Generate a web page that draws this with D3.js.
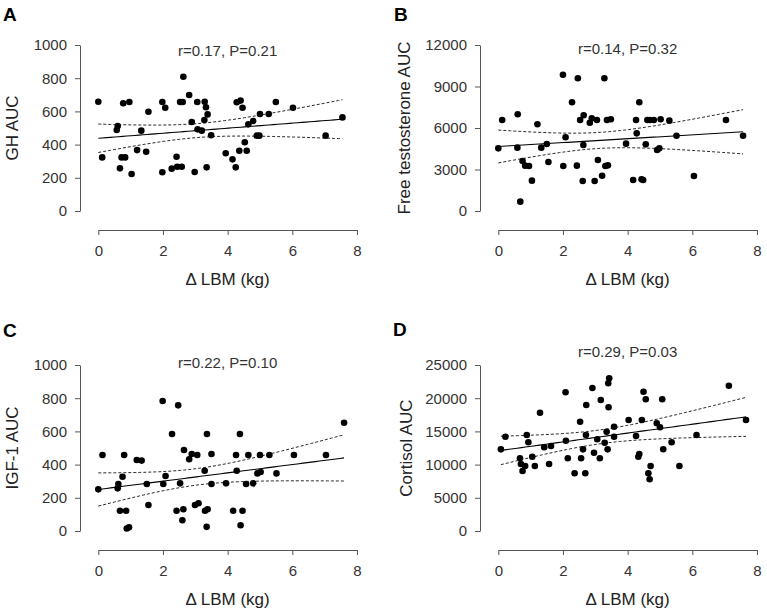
<!DOCTYPE html>
<html><head><meta charset="utf-8">
<script src="https://cdn.jsdelivr.net/npm/d3@7"></script>
<style>
body{margin:0;background:#fff}
svg{display:block}
text{font-family:"Liberation Sans",Arial,Helvetica,sans-serif}
</style>
</head><body>
<svg id="chart" width="767" height="612"></svg>
<script>
// ---------- data ----------
const xTicks = [0, 2, 4, 6, 8];
const ghTicks = [0, 200, 400, 600, 800, 1000];
const ttTicks = [0, 3000, 6000, 9000, 12000];
const igfTicks = [0, 200, 400, 600, 800, 1000];
const corTicks = [0, 5000, 10000, 15000, 20000, 25000];

const ghX = [0.00,0.12,0.60,0.57,0.77,0.96,0.67,0.72,0.83,1.03,1.33,1.55,1.20,1.48,1.98,2.07,1.98,2.27,2.42,2.44,2.58,2.53,2.61,2.63,2.81,2.89,2.98,3.06,3.07,3.20,3.29,3.33,3.38,3.28,3.49,3.35,3.94,4.28,4.40,4.46,5.49,6.02,5.00,5.27,4.79,4.64,4.90,4.98,7.03,7.55,4.53,4.36,4.59,4.15,4.25];
const ghY = [658,323,512,488,649,657,257,323,323,223,484,598,367,357,657,622,233,255,327,267,267,657,657,809,699,536,235,657,492,484,658,625,582,548,456,263,348,655,665,622,657,622,584,584,542,522,454,454,454,564,414,363,363,311,263];

const ttX = [0.00,0.12,0.60,0.59,0.68,0.75,0.83,0.95,1.04,1.21,1.33,1.50,1.55,2.00,2.01,2.08,2.28,2.43,2.46,2.53,2.64,2.63,2.61,2.83,2.89,3.05,2.98,3.08,3.21,3.28,3.31,3.36,3.39,3.48,4.36,4.26,4.28,3.95,4.17,4.43,4.48,4.56,4.61,4.69,4.81,4.91,4.98,5.02,5.29,5.51,6.05,7.04,7.57];
const ttY = [4530,6578,6990,4578,675,3615,3277,3253,2193,6268,4578,4843,3542,9853,3253,5328,7858,3277,9593,6578,6918,4771,2169,6383,6701,6578,2169,3687,2552,9593,3253,6578,3301,6630,7858,6578,5614,4867,2241,2289,2241,4819,6578,6578,6578,4410,4530,6630,6530,5443,2530,6578,5443];

const igfX = [0.00,0.13,0.60,0.62,0.75,0.67,0.86,0.80,1.19,1.34,1.50,1.55,1.99,2.47,2.28,3.36,2.65,2.89,2.81,3.06,3.50,3.29,2.08,2.01,2.53,3.50,3.95,2.42,2.63,2.99,3.10,3.30,3.38,2.60,0.88,0.95,3.35,4.40,4.38,4.26,4.64,5.00,5.29,6.05,7.04,7.60,4.28,4.92,5.02,5.51,4.57,4.79,4.17,4.46];
const igfY = [251,458,257,283,327,122,122,458,428,424,283,157,783,757,584,584,488,464,432,458,464,363,331,283,287,283,287,122,131,157,167,122,131,65,15,22,25,35,584,458,458,458,458,458,458,652,363,347,355,347,283,287,122,122];

const corX = [0.08,0.22,0.67,0.70,0.75,0.83,0.88,0.93,1.05,1.13,1.29,1.42,1.63,1.57,2.08,2.09,2.15,2.36,2.53,2.56,2.62,2.69,2.71,2.72,2.91,2.96,3.06,3.14,3.17,3.29,3.35,3.40,3.43,3.41,3.38,3.58,3.58,4.03,4.26,4.36,4.33,4.44,4.49,4.56,4.71,4.64,4.68,4.90,5.00,5.07,5.10,5.36,5.60,6.13,7.13,7.66];
const corY = [12300,14200,10950,10090,9036,9789,14458,13358,11190,9789,17816,12605,12801,10090,20889,13600,10950,8690,16461,10950,12300,8690,14458,18976,21536,11792,13810,10950,19729,13298,14955,22243,22997,18630,12300,15708,14202,16717,14307,11596,11190,16717,20979,19834,9789,8690,7786,16219,15617,19834,12304,13358,9789,14458,21883,16717];

const panelLetters = ["A", "B", "C", "D"];
const yTitles = ["GH AUC", "Free testosterone AUC", "IGF-1 AUC", "Cortisol AUC"];
const statLabels = ["r=0.17, P=0.21", "r=0.14, P=0.32", "r=0.22, P=0.10", "r=0.29, P=0.03"];
const xTitle = "\u0394 LBM (kg)";

// ---------- layout ----------
const svg = d3.select("#chart");
const panels = [
  {xs: ghX, ys: ghY, ticks: ghTicks, dx: 0, dy: 0, statY: 56, letterX: 3, letterY: 21, titleX: 18},
  {xs: ttX, ys: ttY, ticks: ttTicks, dx: 400, dy: 0, statY: 54, letterX: 394, letterY: 21, titleX: 410},
  {xs: igfX, ys: igfY, ticks: igfTicks, dx: 0, dy: 320, statY: 368, letterX: 3, letterY: 337, titleX: 18},
  {xs: corX, ys: corY, ticks: corTicks, dx: 400, dy: 320, statY: 357, letterX: 393, letterY: 336, titleX: 412}
];

function fit(xs, ys) {
  const n = xs.length;
  const mx = d3.mean(xs), my = d3.mean(ys);
  let sxx = 0, sxy = 0;
  for (let i = 0; i < n; i++) { sxx += (xs[i]-mx)**2; sxy += (xs[i]-mx)*(ys[i]-my); }
  const b = sxy / sxx, a = my - b * mx;
  let sse = 0;
  for (let i = 0; i < n; i++) sse += (ys[i] - a - b*xs[i])**2;
  const s = Math.sqrt(sse / (n - 2));
  const t = 2.006;
  const lo = d3.min(xs), hi = d3.max(xs);
  const pts = d3.range(0, 61).map(k => {
    const x = lo + (hi - lo) * k / 60;
    const yh = a + b * x;
    const se = s * Math.sqrt(1/n + (x-mx)**2 / sxx);
    return {x, yh, up: yh + t*se, dn: yh - t*se};
  });
  return pts;
}

panels.forEach((p, i) => {
  const g = svg.append("g");
  const x = d3.scaleLinear().domain([0, 8]).range([98.3 + p.dx, 357 + p.dx]);
  const y = d3.scaleLinear().domain([0, d3.max(p.ticks)]).range([211 + p.dy, 45 + p.dy]);

  // y axis
  const ya = g.append("g").attr("transform", `translate(${80 + p.dx},0)`)
    .call(d3.axisLeft(y).tickValues(p.ticks).tickFormat(d3.format("d")).tickSize(5).tickSizeOuter(0).tickPadding(8));
  // x axis
  const xa = g.append("g").attr("transform", `translate(0,${230 + p.dy})`)
    .call(d3.axisBottom(x).tickValues(xTicks).tickSize(5).tickSizeOuter(0).tickPadding(10));
  [ya, xa].forEach(a => {
    a.select(".domain").attr("stroke", "#555").attr("stroke-width", 1);
    a.selectAll(".tick line").attr("stroke", "#555");
    a.selectAll(".tick text").attr("fill", "#333").style("font-size", "15px")
      .style("font-family", '"Liberation Sans",Arial,sans-serif');
  });

  // points
  g.append("g").selectAll("circle").data(p.xs.map((v, k) => [v, p.ys[k]])).join("circle")
    .attr("cx", d => x(d[0])).attr("cy", d => y(d[1])).attr("r", 3.3).attr("fill", "#000");

  // regression and confidence band
  const pts = fit(p.xs, p.ys);
  const mk = key => d3.line().x(d => x(d.x)).y(d => y(d[key]));
  g.append("path").attr("d", mk("yh")(pts)).attr("fill", "none").attr("stroke", "#000").attr("stroke-width", 1.1);
  ["up", "dn"].forEach(k => g.append("path").attr("d", mk(k)(pts)).attr("fill", "none")
    .attr("stroke", "#111").attr("stroke-width", 0.9).attr("stroke-dasharray", "3,2"));

  // texts
  g.append("text").attr("x", (98.3 + 357) / 2 + p.dx).attr("y", p.statY).attr("text-anchor", "middle")
    .attr("fill", "#333").style("font-size", "15px").text(statLabels[i]);
  g.append("text").attr("x", (98.3 + 357) / 2 + p.dx).attr("y", 285 + p.dy).attr("text-anchor", "middle")
    .attr("fill", "#222").style("font-size", "17px").text(xTitle);
  g.append("text").attr("transform", `translate(${p.titleX},${128 + p.dy}) rotate(-90)`).attr("text-anchor", "middle")
    .attr("fill", "#222").style("font-size", "17px").text(yTitles[i]);
  g.append("text").attr("x", p.letterX).attr("y", p.letterY).attr("fill", "#000")
    .style("font-size", "19px").style("font-weight", "bold").text(panelLetters[i]);
});
</script>
</body></html>
